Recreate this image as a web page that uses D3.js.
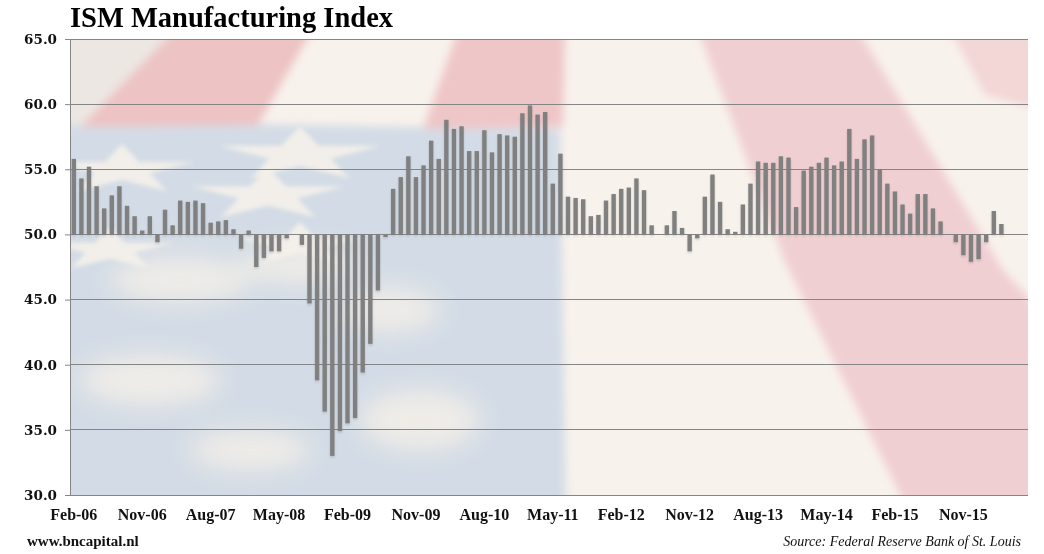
<!DOCTYPE html>
<html>
<head>
<meta charset="utf-8">
<script src="https://cdn.jsdelivr.net/npm/d3@7"></script>
<style>
  body { margin: 0; background: #fff; }
  svg { display: block; }
</style>
</head>
<body>
<svg id="chart" width="1044" height="554"></svg>
<script>
// ISM index, monthly, Feb-06 .. Apr-16
const firstMonth = "Feb-06";
const lastMonth = "Jul-16";   // axis runs a few months past the last bar
const ism = [
  55.8, 54.3, 55.2, 53.7, 52.0, 53.0, 53.7, 52.2, 51.4, 50.3, 51.4,
  49.4, 51.9, 50.7, 52.6, 52.5, 52.6, 52.4, 50.9, 51.0, 51.1, 50.4, 48.9,
  50.3, 47.5, 48.2, 48.7, 48.7, 49.7, 50.0, 49.2, 44.7, 38.8, 36.4, 33.0,
  34.9, 35.5, 35.9, 39.4, 41.6, 45.7, 49.8, 53.5, 54.4, 56.0, 54.4, 55.3,
  57.2, 55.8, 58.8, 58.1, 58.3, 56.4, 56.4, 58.0, 56.3, 57.7, 57.6, 57.5,
  59.3, 59.9, 59.2, 59.4, 53.9, 56.2, 52.9, 52.8, 52.7, 51.4, 51.5, 52.6,
  53.1, 53.5, 53.6, 54.3, 53.4, 50.7, 50.0, 50.7, 51.8, 50.5, 48.7, 49.7,
  52.9, 54.6, 52.5, 50.4, 50.2, 52.3, 53.9, 55.6, 55.5, 55.5, 56.0, 55.9,
  52.1, 54.9, 55.2, 55.5, 55.9, 55.3, 55.6, 58.1, 55.8, 57.3, 57.6, 55.0,
  53.9, 53.3, 52.3, 51.6, 53.1, 53.1, 52.0, 51.0, 50.0, 49.4, 48.4, 47.9,
  48.1, 49.4, 51.8, 50.8
];
const xTickLabels = ["Feb-06", "Nov-06", "Aug-07", "May-08", "Feb-09", "Nov-09", "Aug-10",
  "May-11", "Feb-12", "Nov-12", "Aug-13", "May-14", "Feb-15", "Nov-15"];
const yTicks = [30, 35, 40, 45, 50, 55, 60, 65];
const baseline = 50;

const fmt = d3.timeFormat("%b-%y");
const parse = d3.timeParse("%b-%y");
const months = d3.timeMonth.range(parse(firstMonth), d3.timeMonth.offset(parse(lastMonth), 1)).map(fmt);
const data = ism.map((v, i) => ({ month: months[i], value: v }));

const svg = d3.select("#chart");
const plotLeft = 70, plotRight = 1028, plotTop = 39, plotBottom = 495;

const x = d3.scaleBand().domain(months).range([plotLeft, plotRight]).paddingInner(0.42).paddingOuter(0.21);
const y = d3.scaleLinear().domain([30, 65]).range([plotBottom, plotTop]);

// ---- faded flag backdrop ----
const defs = svg.append("defs");
defs.append("clipPath").attr("id", "plotClip")
  .append("rect").attr("x", plotLeft).attr("y", plotTop).attr("width", plotRight - plotLeft).attr("height", plotBottom - plotTop);
defs.append("filter").attr("id", "soft").attr("x", "-10%").attr("y", "-10%").attr("width", "120%").attr("height", "120%")
  .append("feGaussianBlur").attr("stdDeviation", 4);
defs.append("filter").attr("id", "cloud").attr("x", "-50%").attr("y", "-50%").attr("width", "200%").attr("height", "200%")
  .append("feGaussianBlur").attr("stdDeviation", 12);
defs.append("filter").attr("id", "starBlur").attr("x", "-50%").attr("y", "-50%").attr("width", "200%").attr("height", "200%")
  .append("feGaussianBlur").attr("stdDeviation", 2);
const sh = defs.append("filter").attr("id", "shadow").attr("x", "-50%").attr("y", "-10%").attr("width", "200%").attr("height", "130%");
sh.append("feDropShadow").attr("dx", 0).attr("dy", 1.5).attr("stdDeviation", 1).attr("flood-color", "#000").attr("flood-opacity", 0.15);

const bg = svg.append("g").attr("clip-path", "url(#plotClip)");
bg.append("rect").attr("x", plotLeft).attr("y", plotTop).attr("width", plotRight - plotLeft).attr("height", plotBottom - plotTop)
  .attr("fill", "#f8f2ec");

const flag = bg.append("g").attr("filter", "url(#soft)");
const shapes = [
  { fill: "#ece7e2", pts: [[60, 30], [175, 30], [80, 127], [60, 127]] },
  { fill: "#d3dce6", pts: [[60, 125], [250, 124], [560, 129], [566, 505], [60, 505]] },
  { fill: "#edc3c3", pts: [[175, 30], [312, 30], [258, 125], [80, 127]] },
  { fill: "#efc6c8", pts: [[458, 30], [565, 30], [563, 127], [423, 129]] },
  { fill: "#f0cfd2", pts: [[698, 30], [858, 30], [1003, 270], [1040, 310], [1040, 505], [905, 505], [785, 262]] },
  { fill: "#f3d6d6", pts: [[950, 30], [1040, 30], [1040, 110], [985, 95]] }
];
flag.selectAll("polygon").data(shapes).join("polygon")
  .attr("points", d => d.pts.map(p => p.join(",")).join(" "))
  .attr("fill", d => d.fill);

// light cloud patches and stars on the blue part
const clouds = [[180, 280, 70, 22], [300, 265, 60, 18], [150, 380, 70, 25], [390, 310, 50, 22], [420, 420, 60, 30], [250, 450, 60, 20]];
bg.append("g").attr("filter", "url(#cloud)").selectAll("ellipse").data(clouds).join("ellipse")
  .attr("cx", d => d[0]).attr("cy", d => d[1]).attr("rx", d => d[2]).attr("ry", d => d[3])
  .attr("fill", "#f6f0e8").attr("opacity", 0.8);
const stars = [[300, 155, 2200], [268, 195, 2000], [122, 170, 1800], [110, 250, 1400], [300, 245, 1400]];
bg.append("g").attr("filter", "url(#starBlur)").selectAll("path").data(stars).join("path")
  .attr("transform", d => `translate(${d[0]},${d[1]}) scale(1.9,0.65)`)
  .attr("d", d => d3.symbol(d3.symbolStar, d[2])())
  .attr("fill", "#f5f1ea").attr("opacity", 0.9);

// ---- gridlines ----
const grid = svg.append("g");
grid.selectAll("line").data(yTicks).join("line")
  .attr("x1", d => d === 30 ? plotLeft - 5 : plotLeft).attr("x2", plotRight)
  .attr("y1", d => y(d)).attr("y2", d => y(d))
  .attr("stroke", "#858585").attr("stroke-width", 1).attr("shape-rendering", "crispEdges");

// ---- bars ----
svg.append("g").attr("filter", "url(#shadow)")
  .selectAll("rect").data(data).join("rect")
  .attr("x", d => x(d.month))
  .attr("width", x.bandwidth())
  .attr("y", d => y(Math.max(d.value, baseline)))
  .attr("height", d => Math.abs(y(d.value) - y(baseline)))
  .attr("fill", "#808080");

// ---- axes ----
const yAxis = d3.axisLeft(y).tickValues(yTicks).tickSize(5).tickFormat(d3.format(".1f"));
const gy = svg.append("g").attr("transform", `translate(${plotLeft},0)`).call(yAxis);
gy.select(".domain").attr("stroke", "#858585");
gy.selectAll(".tick line").attr("stroke", "#858585");
gy.selectAll(".tick text")
  .attr("x", -13)
  .attr("font-family", "'DejaVu Serif', serif").attr("font-weight", "bold")
  .attr("font-size", 13.5).attr("fill", "#111");

const xAxis = d3.axisBottom(x).tickValues(xTickLabels).tickSize(0);
const gx = svg.append("g").attr("transform", `translate(0,${plotBottom})`).call(xAxis);
gx.select(".domain").remove();
gx.selectAll(".tick text")
  .attr("y", 14)
  .attr("font-family", "'Liberation Serif', serif").attr("font-weight", "bold")
  .attr("font-size", 16).attr("fill", "#111");

// ---- texts ----
svg.append("text").attr("x", 70).attr("y", 27)
  .attr("font-family", "'Liberation Serif', serif").attr("font-weight", "bold").attr("font-size", 28.5)
  .attr("fill", "#000").text("ISM Manufacturing Index");

svg.append("text").attr("x", 27).attr("y", 546)
  .attr("font-family", "'Liberation Serif', serif").attr("font-weight", "bold").attr("font-size", 15)
  .attr("fill", "#111").text("www.bncapital.nl");

svg.append("text").attr("x", 1021).attr("y", 546).attr("text-anchor", "end")
  .attr("font-family", "'Liberation Serif', serif").attr("font-style", "italic").attr("font-size", 14)
  .attr("fill", "#111").text("Source: Federal Reserve Bank of St. Louis");
</script>
</body>
</html>
